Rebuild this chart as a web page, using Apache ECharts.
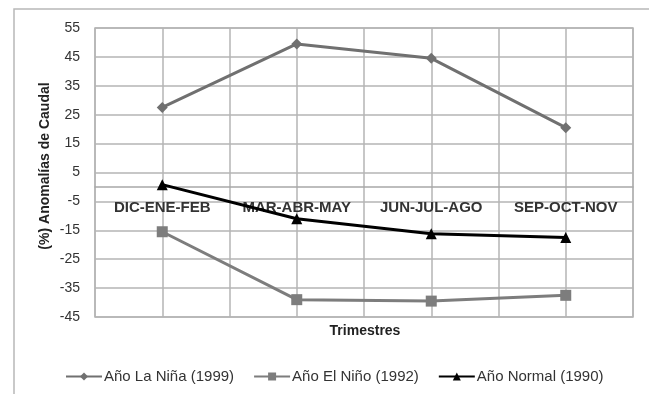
<!DOCTYPE html>
<html><head><meta charset="utf-8">
<script src="https://cdn.jsdelivr.net/npm/echarts@6/dist/echarts.min.js"></script>
<style>html,body{margin:0;padding:0;background:#fff}#c{width:649px;height:394px}</style>
</head><body><div id="c"></div>
<script>
const categories = ['DIC-ENE-FEB','MAR-ABR-MAY','JUN-JUL-AGO','SEP-OCT-NOV'];
const laNina = [27.5, 49.5, 44.5, 20.5];
const elNino = [-15.5, -39, -39.5, -37.5];
const normal = [0.8, -11, -16.2, -17.5];
const seriesNames = ['Año La Niña (1999)','Año El Niño (1992)','Año Normal (1990)'];
const yTicks = {min:-45, max:55, interval:10};
const xTitle = 'Trimestres';
const yTitle = '(%) Anomalías de Caudal';

const font = 'Liberation Sans, Arial, sans-serif';
const chart = echarts.init(document.getElementById('c'));
const gridLine = {show:true, lineStyle:{color:'#b4b4b4', width:1.5}};
chart.setOption({
  animation:false,
  graphic:[
    {type:'rect', shape:{x:14,y:9,width:700,height:420}, style:{fill:'none', stroke:'#b8b8b8', lineWidth:1.5}, z:-1},
    {type:'text', x:365, y:331, style:{text:xTitle, fontFamily:font, fontSize:14, fontWeight:'bold', fill:'#222', align:'center', verticalAlign:'middle'}},
    {type:'text', x:45, y:166, rotation:Math.PI/2, style:{text:yTitle, fontFamily:font, fontSize:14, fontWeight:'bold', fill:'#222', align:'center', verticalAlign:'middle'}}
  ],
  grid:{left:95, top:28, width:538, height:289, show:true, borderColor:'#b4b4b4', borderWidth:1.5},
  legend:{top:364, left:60, itemGap:19, itemWidth:36, itemHeight:10,
    textStyle:{fontFamily:font, fontSize:15, color:'#333', padding:[0,0,0,-3]}, data:seriesNames},
  xAxis:[
    {type:'category', data:categories, boundaryGap:true, position:'bottom',
     axisLine:{onZero:true, lineStyle:{color:'#a8a8a8', width:1.5}},
     axisTick:{show:false}, splitLine:{show:false},
     axisLabel:{interval:0, hideOverlap:false, fontFamily:font, fontSize:15, fontWeight:'bold', color:'#333', margin:-117}},
    {type:'category', data:['a','b','c','d','e','f','g','h'], boundaryGap:true, position:'top',
     axisLine:{show:false}, axisTick:{show:false}, axisLabel:{show:false}, splitLine:gridLine}
  ],
  yAxis:{type:'value', min:yTicks.min, max:yTicks.max, interval:yTicks.interval,
    axisLine:{show:false}, axisTick:{show:false}, splitLine:gridLine,
    axisLabel:{fontFamily:font, fontSize:14, color:'#333', margin:15}},
  series:[
    {name:seriesNames[0], type:'line', data:laNina, symbol:'diamond', symbolSize:11,
     lineStyle:{color:'#707070', width:3}, itemStyle:{color:'#707070'}},
    {name:seriesNames[1], type:'line', data:elNino, symbol:'rect', symbolSize:11,
     lineStyle:{color:'#7d7d7d', width:3}, itemStyle:{color:'#7d7d7d'}},
    {name:seriesNames[2], type:'line', data:normal, symbol:'triangle', symbolSize:11,
     lineStyle:{color:'#000', width:3}, itemStyle:{color:'#000'}}
  ]
});
</script></body></html>
